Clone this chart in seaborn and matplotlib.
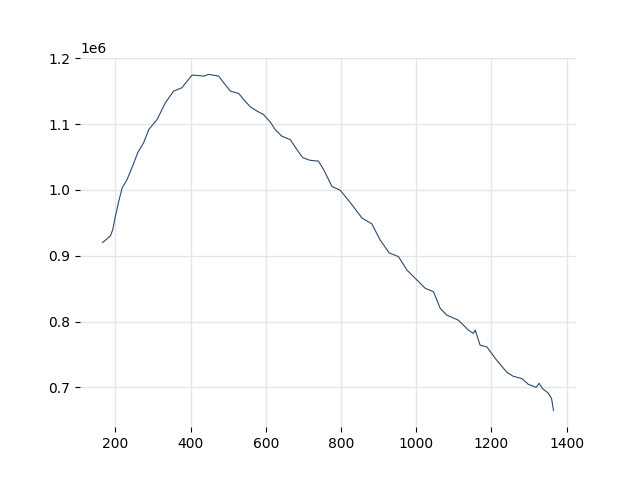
import numpy as np
import pandas as pd
import matplotlib
matplotlib.use("Agg")
import matplotlib.pyplot as plt
import seaborn as sns

# values
x_vals = [166, 187, 193, 200, 209, 218, 231, 244, 260, 275, 289, 311, 333, 355, 377,
          391, 404, 417, 435, 448, 475, 488, 506, 528, 545, 559, 577, 594, 612, 625,
          643, 665, 683, 698, 718, 740, 754, 776, 798, 824, 856, 882, 904, 928, 953,
          975, 1002, 1024, 1046, 1064, 1081, 1112, 1139, 1152, 1157, 1170, 1188, 1214,
          1241, 1258, 1281, 1298, 1319, 1327, 1336, 1351, 1360, 1365]
y_vals = [920000, 930200, 939300, 959600, 982500, 1002900, 1015600, 1033400, 1057200,
          1071500, 1091800, 1107000, 1132500, 1150200, 1155300, 1165400, 1174500,
          1174100, 1173000, 1175600, 1173000, 1163000, 1150200, 1146600, 1134900,
          1126400, 1119700, 1114600, 1103200, 1091800, 1081600, 1076500, 1061300,
          1049100, 1045000, 1043800, 1030800, 1005300, 999500, 981300, 957200, 948500,
          924100, 904300, 898600, 878400, 863100, 850500, 845300, 820000, 809800,
          802100, 786900, 781900, 786900, 764000, 761400, 741200, 722900, 716800,
          713300, 704600, 700000, 706100, 698000, 691300, 682800, 664900]

df = pd.DataFrame({"x": x_vals, "y": y_vals})

fig, ax = plt.subplots(figsize=(6.4, 4.8), dpi=100)
sns.lineplot(data=df, x="x", y="y", ax=ax, color="#2b4a70", linewidth=0.8)
ax.grid(True, color="#e6e6e6", linewidth=1.0)
ax.set_axisbelow(True)
sns.despine(ax=ax, left=True, bottom=True)
ax.set_xlabel("")
ax.set_ylabel("")
ax.set_xticks([200, 400, 600, 800, 1000, 1200, 1400])
plt.savefig("out.png", dpi=100)
